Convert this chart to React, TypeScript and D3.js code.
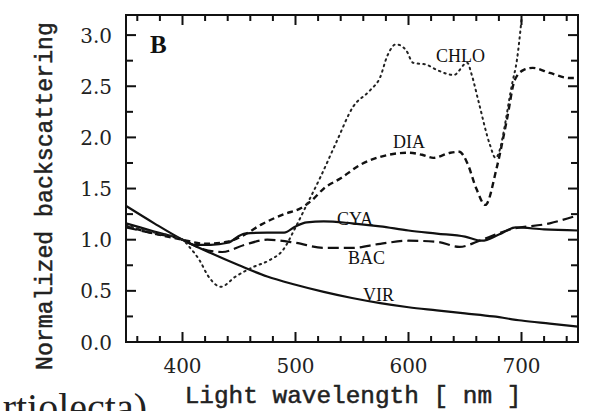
import React from "react";
import * as d3 from "d3";

const xTickLabels = [400, 500, 600, 700];
const yTickLabels = [0, 0.5, 1.0, 1.5, 2.0, 2.5, 3.0];

const virWl = [350, 375, 400, 425, 450, 475, 500, 525, 550, 575, 600, 625, 650, 675, 700, 725, 750];
const virVal = [1.33, 1.16, 1.0, 0.87, 0.75, 0.64, 0.56, 0.49, 0.43, 0.38, 0.34, 0.31, 0.28, 0.25, 0.21, 0.18, 0.15];

const cyaWl = [350, 375, 400, 410, 425, 440, 455, 475, 490, 500, 510, 525, 550, 575, 600, 625, 650, 665, 680, 695, 720, 750];
const cyaVal = [1.16, 1.08, 1.0, 0.95, 0.95, 0.97, 1.06, 1.07, 1.07, 1.13, 1.17, 1.18, 1.16, 1.13, 1.09, 1.06, 1.03, 0.99, 1.05, 1.12, 1.1, 1.09];

const bacWl = [350, 375, 400, 415, 435, 455, 475, 500, 525, 550, 575, 600, 625, 645, 665, 690, 725, 750];
const bacVal = [1.12, 1.06, 1.0, 0.92, 0.88, 0.95, 1.0, 0.97, 0.92, 0.92, 0.96, 0.99, 0.98, 0.93, 1.0, 1.1, 1.16, 1.24];

const diaWl = [350, 375, 400, 420, 440, 455, 470, 490, 505, 515, 525, 540, 557, 575, 600, 612, 622, 637, 645, 652, 660, 668, 678, 687, 694, 702, 710, 725, 743, 750];
const diaVal = [1.13, 1.06, 1.0, 0.96, 0.98, 1.05, 1.15, 1.25, 1.31, 1.39, 1.5, 1.6, 1.73, 1.81, 1.85, 1.83, 1.8, 1.85, 1.86, 1.75, 1.5, 1.34, 1.7, 2.17, 2.56, 2.66, 2.68, 2.63, 2.58, 2.58];

const chloWl = [350, 375, 400, 406, 415, 423, 434, 447, 462, 477, 489, 500, 509, 522, 536, 551, 566, 575, 581, 589, 598, 604, 616, 625, 640, 652, 656, 662, 672, 677, 692, 696, 700];
const chloVal = [1.14, 1.07, 1.0, 0.93, 0.8, 0.64, 0.54, 0.64, 0.73, 0.8, 0.9, 1.12, 1.32, 1.61, 1.95, 2.3, 2.46, 2.59, 2.79, 2.91, 2.85, 2.73, 2.71, 2.66, 2.61, 2.73, 2.61, 2.35, 1.93, 1.8, 2.54, 2.76, 3.15];

const seriesLabels = ["CHLO", "DIA", "CYA", "BAC", "VIR"];

const W = 608, H = 411;
const L = 126, R = 578, T = 15, B = 342;

export default function App() {
  const x = d3.scaleLinear().domain([350, 750]).range([L, R]);
  const y = d3.scaleLinear().domain([0, 3.2]).range([B, B - 3.2 * 102.3]);
  const line = (wl: number[], v: number[]) =>
    d3.line<number>().x((_, i) => x(wl[i])).y((d) => y(d)).curve(d3.curveMonotoneX)(v) || "";

  const xTickVals = d3.range(360, 750, 20);
  const yTickVals = d3.range(0, 13).map((i) => i * 0.25);

  const serif = "'Liberation Serif', serif";
  const tickFont = "'DejaVu Serif', serif";
  const mono = "'Liberation Mono', monospace";

  const labelPos: Record<string, [number, number]> = {
    CHLO: [436, 62],
    DIA: [393, 148],
    CYA: [337, 225],
    BAC: [348, 264],
    VIR: [363, 301],
  };

  return (
    <svg width={W} height={H} style={{ position: "absolute", left: 0, top: 0, background: "#fff" }}>
      <rect x={0} y={0} width={W} height={H} fill="#fff" />
      {/* curves */}
      <path d={line(virWl, virVal)} fill="none" stroke="#111" strokeWidth={2.2} />
      <path d={line(cyaWl, cyaVal)} fill="none" stroke="#111" strokeWidth={2.2} />
      <path d={line(bacWl, bacVal)} fill="none" stroke="#111" strokeWidth={2.2} strokeDasharray="11 5" />
      <path d={line(diaWl, diaVal)} fill="none" stroke="#111" strokeWidth={2.4} strokeDasharray="6 4" />
      <path d={line(chloWl, chloVal)} fill="none" stroke="#222" strokeWidth={2} strokeDasharray="1.5 4.2" strokeLinecap="round" />
      {/* frame */}
      <rect x={L} y={T} width={R - L} height={B - T} fill="none" stroke="#111" strokeWidth={2} />
      {/* ticks */}
      {xTickVals.map((v) => {
        const len = v % 100 === 0 ? 10 : 6;
        return (
          <g key={"xt" + v}>
            <rect x={x(v) - 1} y={B - len} width={2} height={len} fill="#111" />
            <rect x={x(v) - 1} y={T} width={2} height={len} fill="#111" />
          </g>
        );
      })}
      {yTickVals.map((v, i) => {
        const len = i % 2 === 0 ? 10 : 7;
        return (
          <g key={"yt" + i}>
            <rect x={L} y={y(v) - 1} width={len} height={2} fill="#111" />
            <rect x={R - len} y={y(v) - 1} width={len} height={2} fill="#111" />
          </g>
        );
      })}
      {/* tick labels */}
      {yTickLabels.map((v) => (
        <text key={"ylab" + v} x={112} y={y(v) + 7.5} textAnchor="end" fontFamily={tickFont} fontSize={20} fill="#222">
          {v.toFixed(1)}
        </text>
      ))}
      {xTickLabels.map((v) => (
        <text key={"xlab" + v} x={x(v)} y={373} textAnchor="middle" fontFamily={tickFont} fontSize={20} fill="#222">
          {v}
        </text>
      ))}
      {/* axis titles */}
      <text x={353} y={403} textAnchor="middle" fontFamily={mono} fontSize={24.4} fill="#222" stroke="#222" strokeWidth={0.5}>
        Light wavelength [ nm ]
      </text>
      <text transform="translate(52,196) rotate(-90)" textAnchor="middle" fontFamily={mono} fontSize={23.2} fill="#222" stroke="#222" strokeWidth={0.5}>
        Normalized backscattering
      </text>
      {/* panel letter */}
      <text x={150} y={53} fontFamily={serif} fontWeight="bold" fontSize={25} fill="#111">B</text>
      {/* series labels */}
      {seriesLabels.map((s) => (
        <text key={s} x={labelPos[s][0]} y={labelPos[s][1]} fontFamily={serif} fontSize={18} fill="#111">
          {s}
        </text>
      ))}
      {/* cut-off caption fragment */}
      <text x={147} y={421} textAnchor="end" fontFamily={serif} fontSize={40} fill="#222">
        rtiolecta)
      </text>
    </svg>
  );
}
